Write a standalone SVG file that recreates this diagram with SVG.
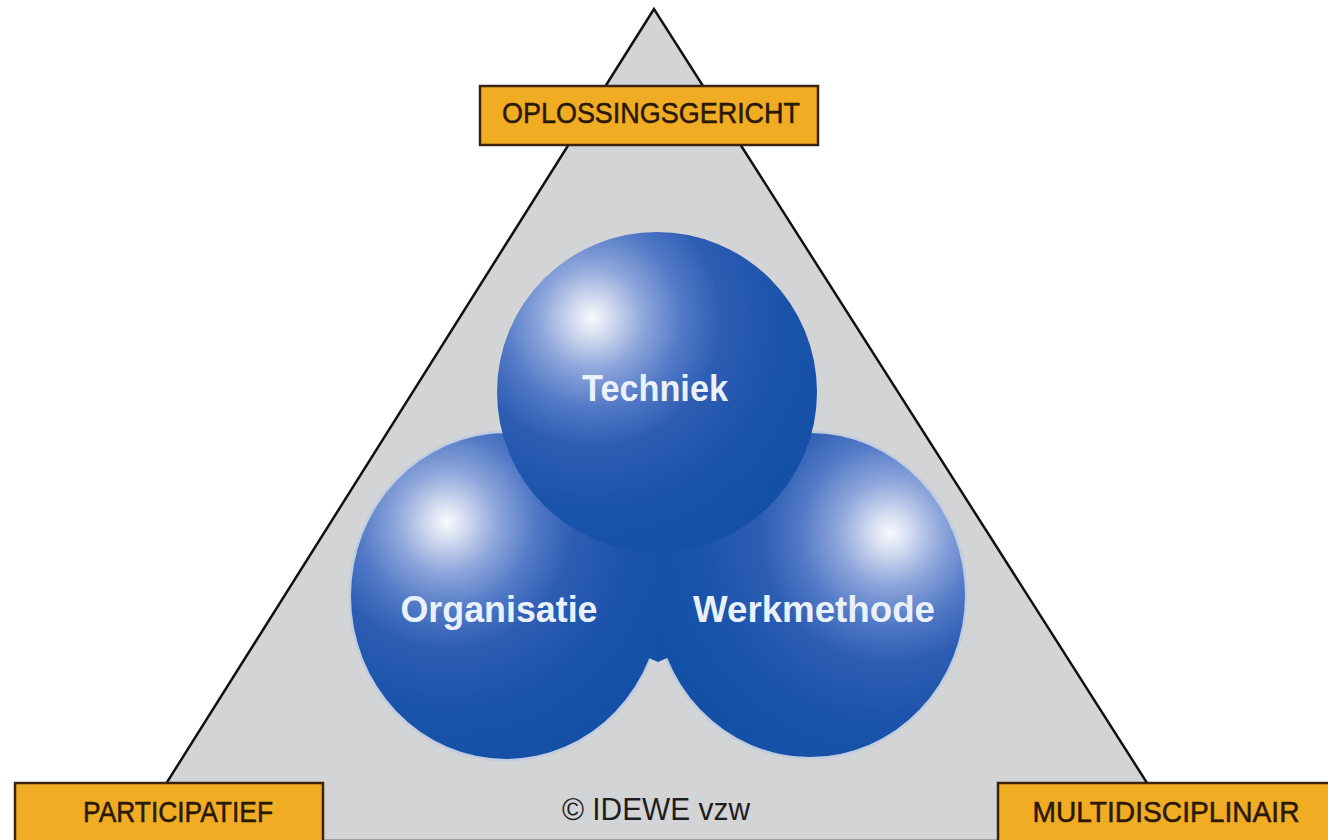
<svg xmlns="http://www.w3.org/2000/svg" width="1328" height="840" viewBox="0 0 1328 840">
<defs>
<style>
.box{fill:#F0AC22;stroke:#3A2410;stroke-width:2.5}
.boxtxt{font-family:"Liberation Sans",Arial,sans-serif;font-size:29px;fill:#2A1808;stroke:#2A1808;stroke-width:0.5;text-anchor:middle}
.sph{font-family:"Liberation Sans",Arial,sans-serif;font-size:37px;font-weight:bold;fill:#EAF1FA;text-anchor:middle}
.copy{font-family:"Liberation Sans",Arial,sans-serif;font-size:31px;fill:#1E1E1E;text-anchor:middle}
.halo{fill:none;stroke:#B4C6E4;stroke-width:3;stroke-opacity:0.6}
</style>
<radialGradient id="gT" gradientUnits="userSpaceOnUse" cx="592" cy="318" r="258">
<stop offset="0" stop-color="#F8FAFD"/>
<stop offset="0.07" stop-color="#D6DEF1"/>
<stop offset="0.2" stop-color="#8EA6DB"/>
<stop offset="0.35" stop-color="#5279C6"/>
<stop offset="0.5" stop-color="#2D5DB3"/>
<stop offset="0.75" stop-color="#1A53AA"/>
<stop offset="1" stop-color="#1450A6"/>
</radialGradient>
<radialGradient id="gO" gradientUnits="userSpaceOnUse" cx="447" cy="522" r="253">
<stop offset="0" stop-color="#F8FAFD"/>
<stop offset="0.07" stop-color="#D6DEF1"/>
<stop offset="0.2" stop-color="#8EA6DB"/>
<stop offset="0.35" stop-color="#5279C6"/>
<stop offset="0.5" stop-color="#2D5DB3"/>
<stop offset="0.75" stop-color="#1A53AA"/>
<stop offset="1" stop-color="#1450A6"/>
</radialGradient>
<radialGradient id="gW" gradientUnits="userSpaceOnUse" cx="890" cy="533" r="259">
<stop offset="0" stop-color="#F8FAFD"/>
<stop offset="0.07" stop-color="#D6DEF1"/>
<stop offset="0.2" stop-color="#8EA6DB"/>
<stop offset="0.35" stop-color="#5279C6"/>
<stop offset="0.5" stop-color="#2D5DB3"/>
<stop offset="0.75" stop-color="#1A53AA"/>
<stop offset="1" stop-color="#1450A6"/>
</radialGradient>
</defs>
<rect width="1328" height="840" fill="#FFFFFF"/>
<g id="triangle">
<polygon points="654,9 130,841 1184,841" fill="#D3D4D6" stroke="#111111" stroke-width="2.5" stroke-linejoin="miter"/>
</g>
<g id="spheres">
<ellipse class="halo" cx="506" cy="596" rx="156" ry="164"/>
<ellipse class="halo" cx="810" cy="595" rx="156" ry="163"/>
<path d="M 506 596 L 657 392 L 810 595 L 658 662 Z" fill="#1550A8"/>
<g id="organisatie">
<ellipse cx="506" cy="596" rx="155" ry="163" fill="url(#gO)"/>
<text class="sph" x="499" y="622" textLength="197" lengthAdjust="spacingAndGlyphs">Organisatie</text>
</g>
<g id="werkmethode">
<ellipse cx="810" cy="595" rx="155" ry="162" fill="url(#gW)"/>
<text class="sph" x="814" y="622" textLength="242" lengthAdjust="spacingAndGlyphs">Werkmethode</text>
</g>
<g id="techniek">
<circle cx="657" cy="392" r="160" fill="url(#gT)"/>
<text class="sph" x="655" y="401" textLength="146" lengthAdjust="spacingAndGlyphs">Techniek</text>
</g>
</g>
<g id="oplossingsgericht">
<rect class="box" x="480" y="86" width="338" height="59"/>
<text class="boxtxt" x="651" y="123" textLength="298" lengthAdjust="spacingAndGlyphs">OPLOSSINGSGERICHT</text>
</g>
<g id="participatief">
<rect class="box" x="15" y="783" width="308" height="70"/>
<text class="boxtxt" x="178" y="822" textLength="190" lengthAdjust="spacingAndGlyphs">PARTICIPATIEF</text>
</g>
<g id="multidisciplinair">
<rect class="box" x="998" y="783" width="345" height="70"/>
<text class="boxtxt" x="1166" y="822" textLength="267" lengthAdjust="spacingAndGlyphs">MULTIDISCIPLINAIR</text>
</g>
<g id="copyright">
<text class="copy" x="656" y="820" textLength="188" lengthAdjust="spacingAndGlyphs">© IDEWE vzw</text>
</g>
<g id="connectors"/>
</svg>
